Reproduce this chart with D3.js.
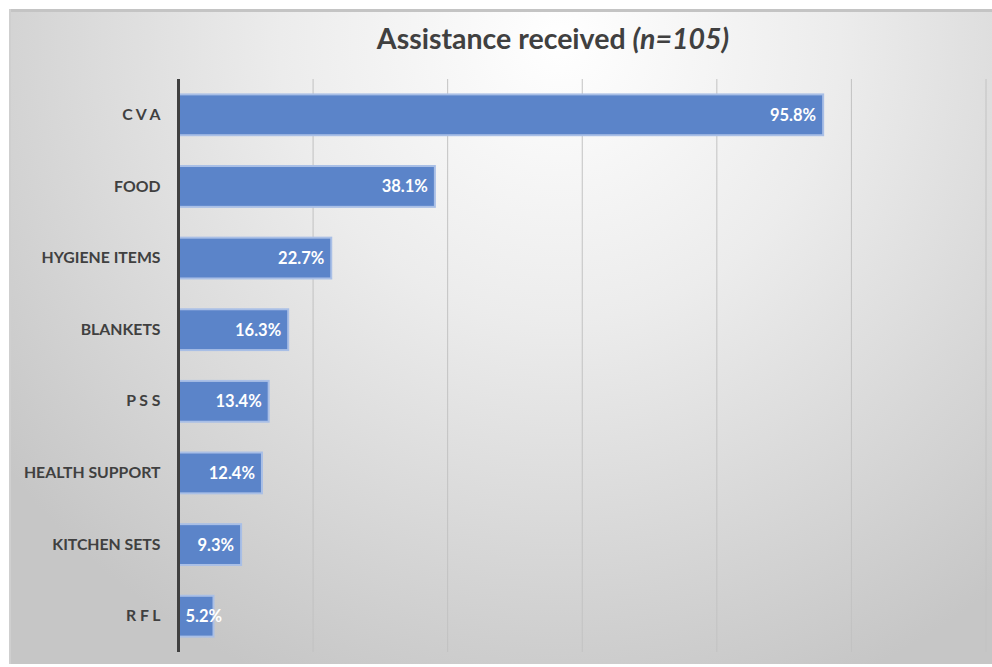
<!DOCTYPE html>
<html><head><meta charset="utf-8">
<script src="https://cdn.jsdelivr.net/npm/d3@7"></script>
<style>body{margin:0;background:#fff}svg{display:block}</style>
</head><body>
<script>
const categories = ["C V A","FOOD","HYGIENE ITEMS","BLANKETS","P S S","HEALTH SUPPORT","KITCHEN SETS","R F L"];
const values = [95.8,38.1,22.7,16.3,13.4,12.4,9.3,5.2];
const gridTicks = [0,20,40,60,80,100,120];

const W = 992, H = 667;
const FONT = "Lato, 'Open Sans', sans-serif";
const svg = d3.select("body").append("svg").attr("width", W).attr("height", H);
const defs = svg.append("defs");
const rg = defs.append("radialGradient").attr("id","bg")
  .attr("gradientUnits","userSpaceOnUse").attr("cx",560).attr("cy",40).attr("r",700);
rg.append("stop").attr("offset","0%").attr("stop-color","#ffffff");
rg.append("stop").attr("offset","40%").attr("stop-color","#ececec");
rg.append("stop").attr("offset","100%").attr("stop-color","#c6c6c6");

svg.append("rect").attr("x",9).attr("y",9).attr("width",W-9).attr("height",655).attr("fill","url(#bg)");
svg.append("rect").attr("x",9).attr("y",9).attr("width",W-9).attr("height",3).attr("fill","#c4c4c4");
svg.append("rect").attr("x",9).attr("y",9).attr("width",2).attr("height",655).attr("fill","#cfcfcf");

const x = d3.scaleLinear().domain([0,120]).range([178.5,986]);
const y = d3.scaleBand().domain(categories).range([79,652]).paddingInner(0.43).paddingOuter(0.215);

// gridlines
svg.append("g").selectAll("line").data(gridTicks.slice(1)).join("line")
  .attr("x1",d=>x(d)).attr("x2",d=>x(d)).attr("y1",79).attr("y2",652)
  .attr("stroke","#c2c2c2").attr("stroke-width",1);

// bars
svg.append("g").selectAll("rect").data(values).join("rect")
  .attr("x",x(0)).attr("y",(d,i)=>y(categories[i]))
  .attr("width",d=>x(d)-x(0)).attr("height",y.bandwidth())
  .attr("fill","#5b84c9").attr("stroke","#a9bfe6").attr("stroke-width",2);

// value labels
svg.append("g").selectAll("text").data(values).join("text")
  .attr("y",(d,i)=>y(categories[i])+y.bandwidth()/2)
  .attr("dy","0.36em").attr("text-anchor","start")
  .attr("fill","#fff").attr("font-family",FONT)
  .attr("font-weight","bold").attr("font-size",16.5)
  .text(d=>d.toFixed(1)+"%")
  .each(function(d){
    const w = this.getComputedTextLength();
    const sx = Math.max(x(d)-7-w, x(0)+7);
    d3.select(this).attr("x", sx);
  });

// axis line
svg.append("line").attr("x1",x(0)).attr("x2",x(0)).attr("y1",79).attr("y2",652)
  .attr("stroke","#404040").attr("stroke-width",3);

// category labels
const yAxis = d3.axisLeft(y).tickSize(0).tickPadding(18);
const ga = svg.append("g").attr("transform",`translate(${x(0)},0)`).call(yAxis);
ga.select(".domain").remove();
ga.selectAll("text").attr("fill","#404040").attr("font-family",FONT)
  .attr("font-weight","bold").attr("font-size",15.8);

// title
const t = svg.append("text").attr("x",553).attr("y",49).attr("text-anchor","middle")
  .attr("font-family",FONT).attr("font-weight","bold")
  .attr("font-size",28.5).attr("fill","#404040");
t.append("tspan").text("Assistance received ");
t.append("tspan").attr("font-style","italic").text("(n=105)");
</script>
</body></html>
